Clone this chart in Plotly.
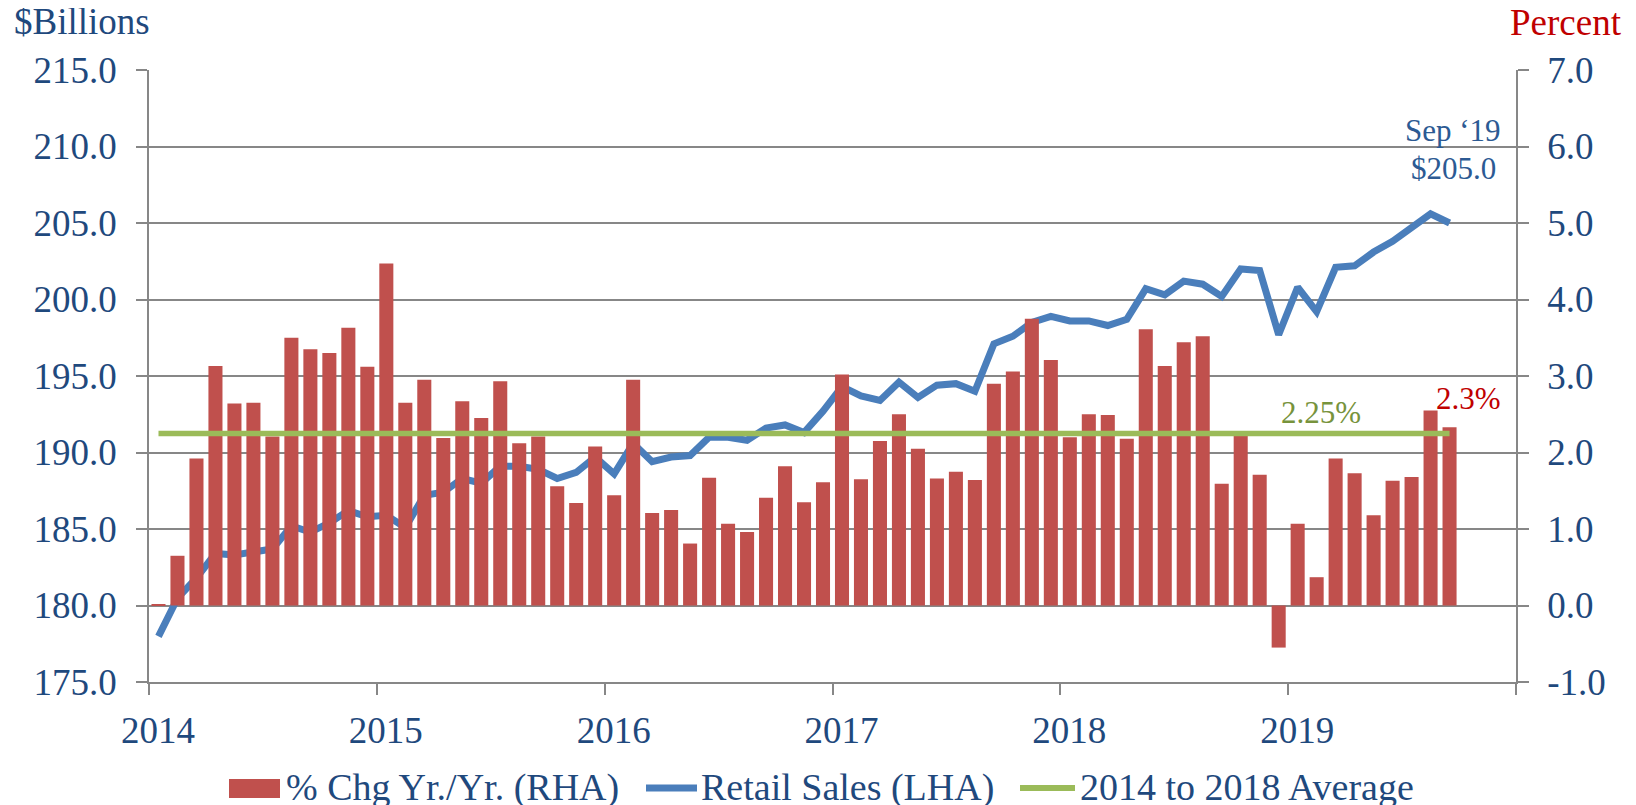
import plotly.graph_objects as go
import numpy as np

# ---------------- data ----------------
months = [f"{y}-{m:02d}" for y in range(2014, 2020) for m in range(1, 13)][:69]

pct_chg = [0.02, 0.65, 1.92, 3.13, 2.64, 2.65, 2.21, 3.50, 3.35, 3.30, 3.63, 3.12,
           4.47, 2.65, 2.95, 2.19, 2.67, 2.45, 2.93, 2.12, 2.21, 1.56, 1.34, 2.08,
           1.44, 2.95, 1.21, 1.25, 0.81, 1.67, 1.07, 0.96, 1.41, 1.82, 1.35, 1.61,
           3.02, 1.65, 2.15, 2.50, 2.05, 1.66, 1.75, 1.64, 2.90, 3.06, 3.75, 3.21,
           2.20, 2.50, 2.49, 2.18, 3.61, 3.13, 3.44, 3.52, 1.59, 2.27, 1.71, -0.55,
           1.07, 0.37, 1.92, 1.73, 1.18, 1.63, 1.68, 2.55, 2.33]

retail_sales = [177.98, 180.48, 181.8, 183.4, 183.3, 183.5, 183.7, 185.2, 184.8, 185.4, 186.2, 185.8,
                185.9, 185.1, 187.2, 187.4, 188.3, 188.0, 189.1, 189.1, 188.9, 188.3, 188.7, 189.7,
                188.6, 190.6, 189.4, 189.7, 189.8, 191.0, 191.0, 190.8, 191.6, 191.8, 191.3, 192.7,
                194.3, 193.7, 193.4, 194.6, 193.6, 194.4, 194.5, 194.0, 197.1, 197.6, 198.5, 198.9,
                198.6, 198.6, 198.3, 198.7, 200.7, 200.3, 201.2, 201.0, 200.2, 202.0, 201.9, 197.7,
                200.8, 199.2, 202.1, 202.2, 203.1, 203.8, 204.7, 205.6, 205.0]

avg_2014_2018 = 2.25
year_labels = ["2014", "2015", "2016", "2017", "2018", "2019", ""]
left_ticks = [175, 180, 185, 190, 195, 200, 205, 210, 215]
right_ticks = [-1, 0, 1, 2, 3, 4, 5, 6, 7]

# ---------------- style ----------------
FONT = "Liberation Serif, Times New Roman, serif"
NAVY = "#1F497D"
RED = "#C0504D"
BLUE = "#4A7EBB"
GREEN = "#9BBB59"
GRID = "#878787"

# page body has an 8px margin; figure is offset by it
OFF = 8
W, H = 1628, 797
L, R, T, B = 141, 120, 62, 123
PW, PH = W - L - R, H - T - B


def xp(px):  # page pixel -> paper
    return (px - OFF - L) / PW


def yp(py):
    return (H - B - (py - OFF)) / PH


x = np.arange(len(months)) + 0.5

fig = go.Figure()
fig.add_trace(go.Bar(x=x, y=pct_chg, yaxis="y2", marker=dict(color=RED, line=dict(width=0)),
                     name="% Chg Yr./Yr. (RHA)"))
fig.add_trace(go.Scatter(x=x, y=retail_sales, yaxis="y", mode="lines",
                         line=dict(color=BLUE, width=7), name="Retail Sales (LHA)"))
fig.add_trace(go.Scatter(x=x, y=[avg_2014_2018] * len(months), yaxis="y2", mode="lines",
                         line=dict(color=GREEN, width=5.5), name="2014 to 2018 Average"))

tickfont = dict(family=FONT, size=37, color=NAVY)

fig.update_layout(
    width=W, height=H,
    margin=dict(l=L, r=R, t=T, b=B, pad=0),
    paper_bgcolor="white", plot_bgcolor="white",
    showlegend=False, bargap=0.26,
    font=dict(family=FONT, color=NAVY),
    xaxis=dict(range=[0, 72], tickvals=list(range(0, 73, 12)), ticktext=year_labels,
               showgrid=False, zeroline=False, showline=True, linecolor=GRID, linewidth=1.5,
               ticks="outside", ticklen=11, tickcolor=GRID, tickwidth=1.5,
               tickfont=tickfont, ticklabelshift=9, ticklabelstandoff=4),
    yaxis=dict(range=[175, 215], tickvals=left_ticks, tickformat=".1f",
               showgrid=True, gridcolor=GRID, gridwidth=1.5, zeroline=False,
               showline=True, linecolor=GRID, linewidth=1.5,
               ticks="outside", ticklen=11, tickcolor=GRID, tickwidth=1.5,
               tickfont=tickfont, ticklabelstandoff=12),
    yaxis2=dict(range=[-1, 7], tickvals=right_ticks,
                ticktext=[f"{v:.1f}" for v in right_ticks], overlaying="y", side="right",
                showgrid=False, zeroline=False, showline=True, linecolor=GRID, linewidth=1.5,
                ticks="outside", ticklen=11, tickcolor=GRID, tickwidth=1.5,
                tickfont=tickfont, ticklabelstandoff=11),
)

annotations = [
    dict(text="$Billions", x=xp(12), y=yp(21), xanchor="left", yanchor="middle",
         font=dict(family=FONT, size=37, color=NAVY)),
    dict(text="Percent", x=xp(1508), y=yp(22), xanchor="left", yanchor="middle",
         font=dict(family=FONT, size=37, color="#C00000")),
    dict(text="Sep \u201819", x=xp(1453), y=yp(130), xanchor="center", yanchor="middle",
         font=dict(family=FONT, size=31, color="#2C5A93")),
    dict(text="$205.0", x=xp(1453), y=yp(168), xanchor="center", yanchor="middle",
         font=dict(family=FONT, size=31, color="#2C5A93")),
    dict(text="2.25%", x=xp(1321), y=yp(412), xanchor="center", yanchor="middle",
         font=dict(family=FONT, size=31, color="#77933C")),
    dict(text="2.3%", x=xp(1468), y=yp(398), xanchor="center", yanchor="middle",
         font=dict(family=FONT, size=31, color="#C00000")),
    # legend labels
    dict(text="% Chg Yr./Yr. (RHA)", x=xp(284), y=yp(787), xanchor="left", yanchor="middle",
         font=dict(family=FONT, size=38, color=NAVY)),
    dict(text="Retail Sales (LHA)", x=xp(699), y=yp(787), xanchor="left", yanchor="middle",
         font=dict(family=FONT, size=38, color=NAVY)),
    dict(text="2014 to 2018 Average", x=xp(1078), y=yp(787), xanchor="left", yanchor="middle",
         font=dict(family=FONT, size=38, color=NAVY)),
]
for a in annotations:
    a.update(xref="paper", yref="paper", showarrow=False)
fig.update_layout(annotations=annotations)

shapes = [
    dict(type="rect", x0=xp(229), x1=xp(280), y0=yp(798), y1=yp(779),
         fillcolor=RED, line=dict(width=0)),
    dict(type="line", x0=xp(646), x1=xp(697), y0=yp(788), y1=yp(788),
         line=dict(color=BLUE, width=7)),
    dict(type="line", x0=xp(1020), x1=xp(1075), y0=yp(788), y1=yp(788),
         line=dict(color=GREEN, width=6)),
]
for s in shapes:
    s.update(xref="paper", yref="paper")
fig.update_layout(shapes=shapes)

fig.write_html("out.html")
